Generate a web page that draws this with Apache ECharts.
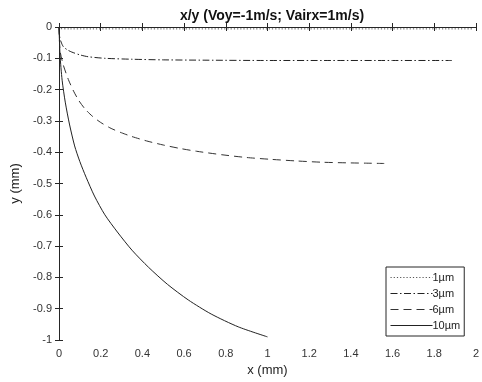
<!DOCTYPE html>
<html>
<head>
<meta charset="utf-8">
<script src="https://cdn.jsdelivr.net/npm/echarts@6/dist/echarts.min.js"></script>
<style>html,body{margin:0;padding:0;background:#fff;}#c{width:482px;height:382px;}</style>
</head>
<body>
<div id="c"></div>
<script>
var title = 'x/y (Voy=-1m/s; Vairx=1m/s)';
var seriesNames = ['1µm', '3µm', '6µm', '10µm'];
var xTicks = [0, 0.2, 0.4, 0.6, 0.8, 1, 1.2, 1.4, 1.6, 1.8, 2];
var yTicks = [0, -0.1, -0.2, -0.3, -0.4, -0.5, -0.6, -0.7, -0.8, -0.9, -1];

var x1 = [0, 0.002, 0.05, 0.5, 1.0, 1.5, 1.99];
var y1 = [0, -0.005, -0.006, -0.006, -0.006, -0.006, -0.006];

var x3 = [0, 0.003, 0.01, 0.021, 0.04, 0.061, 0.1, 0.14, 0.22, 0.35, 0.5, 0.7, 1.0, 1.3, 1.6, 1.885];
var y3 = [0, -0.03, -0.048, -0.063, -0.073, -0.08, -0.089, -0.095, -0.1, -0.103, -0.105, -0.106, -0.107, -0.107, -0.107, -0.107];

var x6 = [0, 0.005, 0.02, 0.045, 0.07, 0.095, 0.125, 0.16, 0.2, 0.25, 0.3, 0.35, 0.42, 0.5, 0.58, 0.66, 0.78, 0.9, 1.02, 1.14, 1.26, 1.38, 1.47, 1.56];
var y6 = [0, -0.075, -0.12, -0.168, -0.205, -0.235, -0.262, -0.285, -0.305, -0.324, -0.338, -0.35, -0.364, -0.377, -0.388, -0.397, -0.408, -0.417, -0.423, -0.428, -0.432, -0.434, -0.435, -0.436];

var x10 = [0, 0.005, 0.015, 0.03, 0.05, 0.075, 0.1, 0.13, 0.17, 0.22, 0.28, 0.35, 0.43, 0.52, 0.62, 0.73, 0.86, 1.0];
var y10 = [0, -0.09, -0.17, -0.24, -0.31, -0.38, -0.43, -0.48, -0.54, -0.6, -0.655, -0.713, -0.768, -0.822, -0.872, -0.917, -0.958, -0.99];

function pairs(xs, ys) { return xs.map(function (x, i) { return [x, ys[i]]; }); }

var FONT = 'Liberation Sans, Arial, sans-serif';
var AX = '#262626';

var chart = echarts.init(document.getElementById('c'), null, {renderer: 'canvas'});

function mkSeries(name, data, dash, color) {
  return {
    name: name, type: 'line', data: data, symbol: 'none', smooth: 0.25,
    xAxisIndex: 0, yAxisIndex: 0,
    lineStyle: {color: color, width: 1, type: dash},
    itemStyle: {color: color},
    emphasis: {disabled: true}
  };
}

chart.setOption({
  animation: false,
  backgroundColor: '#fff',
  title: {
    text: title, left: 267, top: 4, textAlign: 'center',
    textStyle: {fontFamily: FONT, fontSize: 14, fontWeight: 'bold', color: '#111'}
  },
  grid: {left: 59, right: 6, top: 27, bottom: 41, containLabel: false},
  legend: {
    orient: 'vertical', left: 386, top: 267,
    data: seriesNames,
    borderColor: AX, borderWidth: 1, backgroundColor: '#fff',
    padding: [5, 4, 5, 4], itemWidth: 42, itemHeight: 10, itemGap: 5,
    itemStyle: {opacity: 0},
    lineStyle: {width: 1},
    textStyle: {fontFamily: FONT, fontSize: 11, color: '#222', padding: [0, 0, 0, -5]}
  },
  xAxis: [{
    type: 'value', min: xTicks[0], max: xTicks[xTicks.length - 1], interval: 0.2,
    position: 'bottom',
    axisLine: {show: true, lineStyle: {color: AX, width: 1}},
    axisTick: {show: true, inside: true, length: 4, lineStyle: {color: AX}},
    axisLabel: {color: '#333', fontFamily: FONT, fontSize: 11, margin: 8},
    splitLine: {show: false},
    name: 'x (mm)', nameLocation: 'middle', nameGap: 24,
    nameTextStyle: {fontFamily: FONT, fontSize: 13, color: '#222'}
  }, {
    type: 'value', min: 0, max: 2, interval: 0.2, position: 'top',
    axisLine: {show: true, lineStyle: {color: AX, width: 1}},
    axisTick: {show: true, inside: true, length: 4, lineStyle: {color: AX}},
    axisLabel: {show: false}, splitLine: {show: false}
  }],
  yAxis: [{
    type: 'value', min: yTicks[yTicks.length - 1], max: yTicks[0], interval: 0.1,
    position: 'left',
    axisLine: {show: true, lineStyle: {color: AX, width: 1}},
    axisTick: {show: true, inside: true, length: 4, lineStyle: {color: AX}},
    axisLabel: {color: '#333', fontFamily: FONT, fontSize: 11, margin: 7},
    splitLine: {show: false},
    name: 'y (mm)', nameLocation: 'middle', nameGap: 35, nameRotate: 90,
    nameTextStyle: {fontFamily: FONT, fontSize: 13, color: '#222'}
  }, {
    type: 'value', min: -1, max: 0, interval: 0.1, position: 'right',
    axisLine: {show: true, lineStyle: {color: AX, width: 1}},
    axisTick: {show: true, inside: true, length: 4, lineStyle: {color: AX}},
    axisLabel: {show: false}, splitLine: {show: false}
  }],
  series: [
    mkSeries(seriesNames[0], pairs(x1, y1), [1.2, 2], '#555'),
    mkSeries(seriesNames[1], pairs(x3, y3), [7, 2.5, 1.5, 2.5], '#222'),
    mkSeries(seriesNames[2], pairs(x6, y6), [8, 5], '#333'),
    mkSeries(seriesNames[3], pairs(x10, y10), 'solid', '#222')
  ]
});
</script>
</body>
</html>
